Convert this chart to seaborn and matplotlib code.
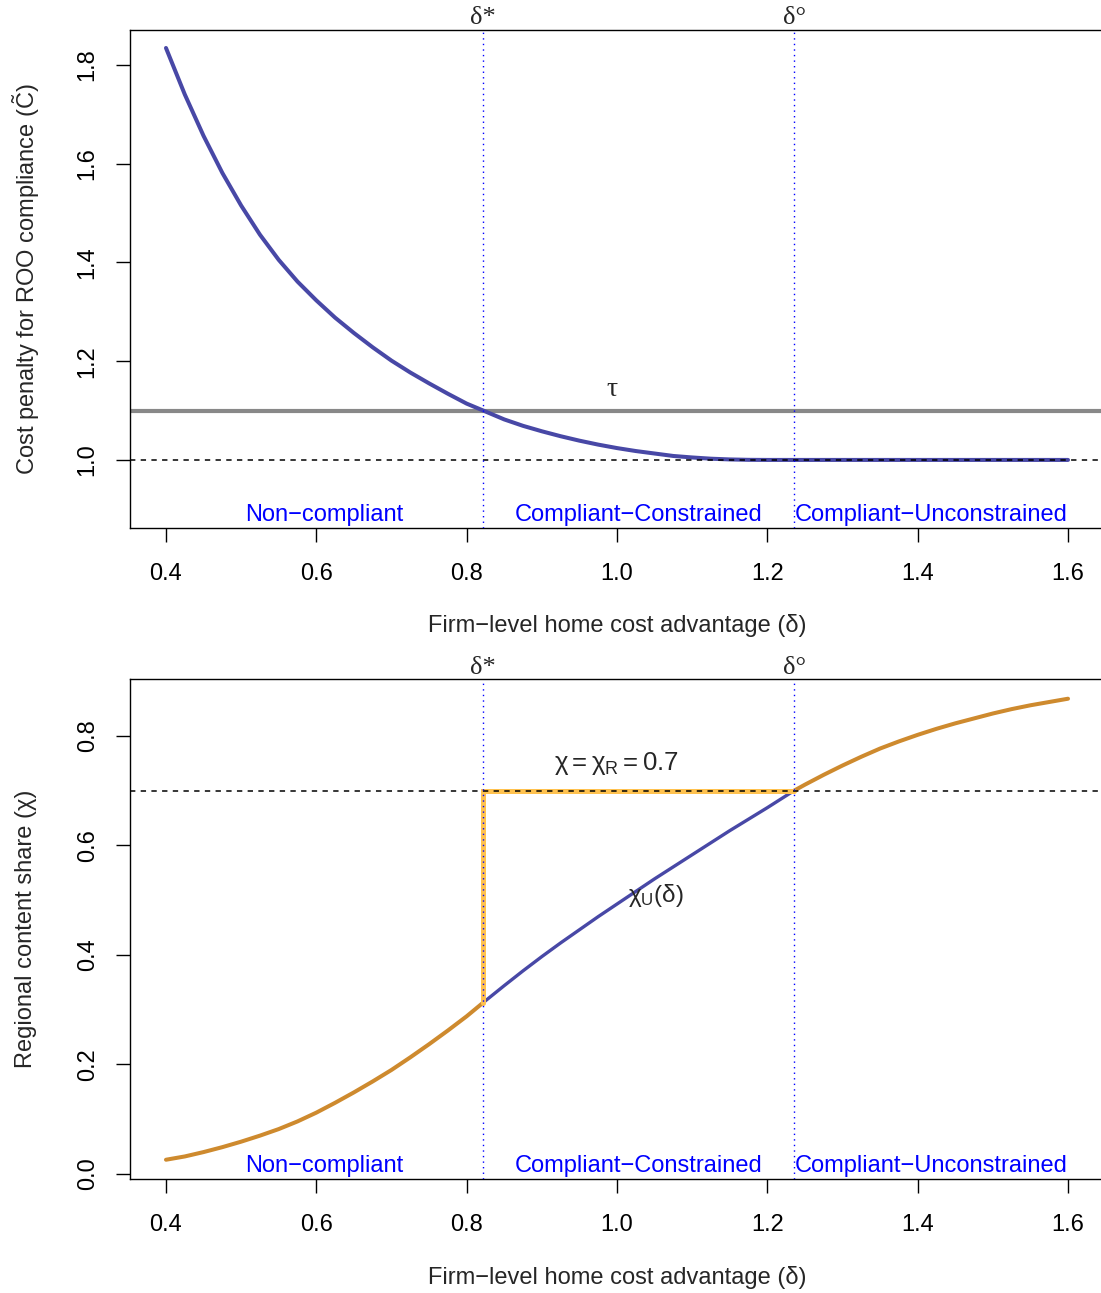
import numpy as np
import pandas as pd
import matplotlib
matplotlib.use("Agg")
import matplotlib.pyplot as plt
import matplotlib.transforms as mtransforms
import seaborn as sns

# Firm-level home cost advantage grid
delta = [0.400, 0.425, 0.450, 0.475, 0.500, 0.525, 0.550, 0.575, 0.600, 0.625,
         0.650, 0.675, 0.700, 0.725, 0.750, 0.775, 0.800,
         0.822,
         0.850, 0.875, 0.900, 0.925, 0.950, 0.975, 1.000, 1.025, 1.050, 1.075,
         1.100, 1.125, 1.150, 1.175, 1.200,
         1.2355,
         1.250, 1.275, 1.300, 1.325, 1.350, 1.375, 1.400, 1.425, 1.450, 1.475,
         1.500, 1.525, 1.550, 1.575, 1.600]

# Cost penalty for ROO compliance (C tilde)
cost_penalty = [1.834, 1.740, 1.656, 1.581, 1.515, 1.456, 1.405, 1.361, 1.323, 1.288,
                1.257, 1.228, 1.201, 1.177, 1.155, 1.134, 1.114,
                1.100,
                1.082, 1.069, 1.058, 1.048, 1.039, 1.031, 1.024, 1.018, 1.013, 1.008,
                1.005, 1.0025, 1.001, 1.0002, 1.000,
                1.000,
                1.000, 1.000, 1.000, 1.000, 1.000, 1.000, 1.000, 1.000, 1.000, 1.000,
                1.000, 1.000, 1.000, 1.000, 1.000]

# Unconstrained regional content share chi_U(delta)
chi_u = [0.026, 0.032, 0.040, 0.049, 0.059, 0.070, 0.082, 0.096, 0.112, 0.130,
         0.149, 0.169, 0.190, 0.213, 0.237, 0.262, 0.288,
         0.313,
         0.344, 0.371, 0.397, 0.422, 0.446, 0.470, 0.493, 0.516, 0.539, 0.561,
         0.583, 0.605, 0.627, 0.648, 0.669,
         0.700,
         0.711, 0.729, 0.746, 0.762, 0.777, 0.790, 0.802, 0.813, 0.823, 0.832,
         0.841, 0.849, 0.856, 0.862, 0.868]

# Thresholds and policy parameters
delta_star = 0.822
delta_circ = 1.2355
tau = 1.1
chi_r = 0.7

regime_labels = ["Non\u2212compliant", "Compliant\u2212Constrained", "Compliant\u2212Unconstrained"]
x_ticks = [0.4, 0.6, 0.8, 1.0, 1.2, 1.4, 1.6]
y_ticks_top = [1.0, 1.2, 1.4, 1.6, 1.8]
y_ticks_bottom = [0.0, 0.2, 0.4, 0.6, 0.8]

df = pd.DataFrame({"delta": delta, "cost": cost_penalty, "chi": chi_u})

sns.set_theme(style="white")
plt.rcParams["font.family"] = ["Liberation Sans", "DejaVu Sans"]
plt.rcParams["mathtext.fontset"] = "custom"
plt.rcParams["mathtext.rm"] = "Liberation Sans"
plt.rcParams["mathtext.it"] = "Liberation Sans:italic"
plt.rcParams["mathtext.bf"] = "Liberation Sans:bold"

BLUE_LINE = "#4848A6"
ORANGE = "#CE8A2E"
ORANGE_LIGHT = "#FFC24F"
REGION_BLUE = "#0000FF"
FS = 17
SERIF = ["Liberation Serif", "DejaVu Serif"]

W, H = 1101, 1293
fig = plt.figure(figsize=(W / 100, H / 100), dpi=100)


def px_axes(left, top, right, bottom):
    return fig.add_axes([left / W, 1 - bottom / H, (right - left) / W, (bottom - top) / H])


ax1 = px_axes(129.9, 29.5, 1104.1, 527.8)
ax2 = px_axes(129.9, 679.0, 1104.1, 1178.9)


def style_axes(ax, yticks, ylim, ylabel, ylabel_x):
    ax.set_xlim(0.352, 1.648)
    ax.set_ylim(*ylim)
    for sp in ax.spines.values():
        sp.set_visible(True)
        sp.set_color("black")
        sp.set_linewidth(1.0)
    ax.set_xticks(x_ticks)
    ax.set_xticklabels([f"{v:.1f}" for v in x_ticks])
    ax.set_yticks(yticks)
    ax.set_yticklabels([f"{v:.1f}" for v in yticks], rotation=90, va="center")
    ax.tick_params(axis="both", which="major", direction="out", length=10, width=1.0,
                   color="black", labelcolor="black", labelsize=FS,
                   bottom=True, left=True, top=False, right=False)
    ax.tick_params(axis="x", pad=15)
    ax.tick_params(axis="y", pad=12.5)
    ax.grid(False)
    ax.set_xlabel("Firm\u2212level home cost advantage (\u03b4)", fontsize=FS, va="center")
    ax.xaxis.set_label_coords(0.5, -0.197)
    ax.set_ylabel(ylabel, fontsize=FS, va="center")
    ax.yaxis.set_label_coords(ylabel_x, 0.5)


def regime_annotations(ax):
    trans = mtransforms.blended_transform_factory(ax.transData, ax.transAxes)
    centers = [(0.4 + delta_star) / 2, (delta_star + delta_circ) / 2, (delta_circ + 1.6) / 2]
    for cx, lab in zip(centers, regime_labels):
        ax.text(cx, 0.013, lab, transform=trans, ha="center", va="baseline",
                color=REGION_BLUE, fontsize=FS)
    for dx, lab in [(delta_star, "\u03b4*"), (delta_circ, "\u03b4\u00b0")]:
        ax.axvline(dx, color=REGION_BLUE, lw=1.0, dashes=(1, 3), zorder=5)
        ax.text(dx, 1.0 + 5 / 498, lab, transform=trans, ha="center", va="baseline",
                fontsize=19, family=SERIF)


# ---- Top panel: cost penalty ----
style_axes(ax1, y_ticks_top, (0.8626, 1.8714),
           r"Cost penalty for ROO compliance ($\tilde{\mathrm{C}}$)", (26 - 129.9) / 974.2)
sns.lineplot(data=df, x="delta", y="cost", ax=ax1, color=BLUE_LINE, lw=2.9,
             estimator=None, zorder=3)
ax1.axhline(tau, color="#888888", lw=3.0, zorder=2)
ax1.axhline(1.0, color="black", lw=1.1, dashes=(3.5, 3.5), zorder=4)
ax1.text(0.993, 1.1418, "\u03c4", ha="center", va="center", fontsize=20, family=SERIF)
regime_annotations(ax1)

# ---- Bottom panel: regional content share ----
style_axes(ax2, y_ticks_bottom, (-0.009, 0.904),
           "Regional content share (\u03c7)", (26 - 129.9) / 974.2)
non_compliant = df[df["delta"] <= delta_star]
constrained = df[(df["delta"] >= delta_star) & (df["delta"] <= delta_circ)]
unconstrained = df[df["delta"] >= delta_circ]
sns.lineplot(data=non_compliant, x="delta", y="chi", ax=ax2, color=ORANGE, lw=2.9,
             estimator=None, zorder=3)
sns.lineplot(data=unconstrained, x="delta", y="chi", ax=ax2, color=ORANGE, lw=2.9,
             estimator=None, zorder=3)
sns.lineplot(data=constrained, x="delta", y="chi", ax=ax2, color=BLUE_LINE, lw=2.4,
             estimator=None, zorder=3)
chi_at_star = chi_u[delta.index(delta_star)]
ax2.plot([delta_star, delta_star, delta_circ], [chi_at_star, chi_r, chi_r],
         color=ORANGE_LIGHT, lw=3.6, solid_joinstyle="miter", zorder=3.5)
ax2.axhline(chi_r, color="black", lw=1.1, dashes=(3.5, 3.5), zorder=4)
ax2.text(0.999, 0.749, r"$\mathrm{\chi = \chi_{R} = 0.7}$", ha="center", va="center", fontsize=18.5)
ax2.text(1.052, 0.508, r"$\mathrm{\chi_{U}(\delta)}$", ha="center", va="center", fontsize=17.5)
regime_annotations(ax2)

fig.savefig("out.png", dpi=100)
